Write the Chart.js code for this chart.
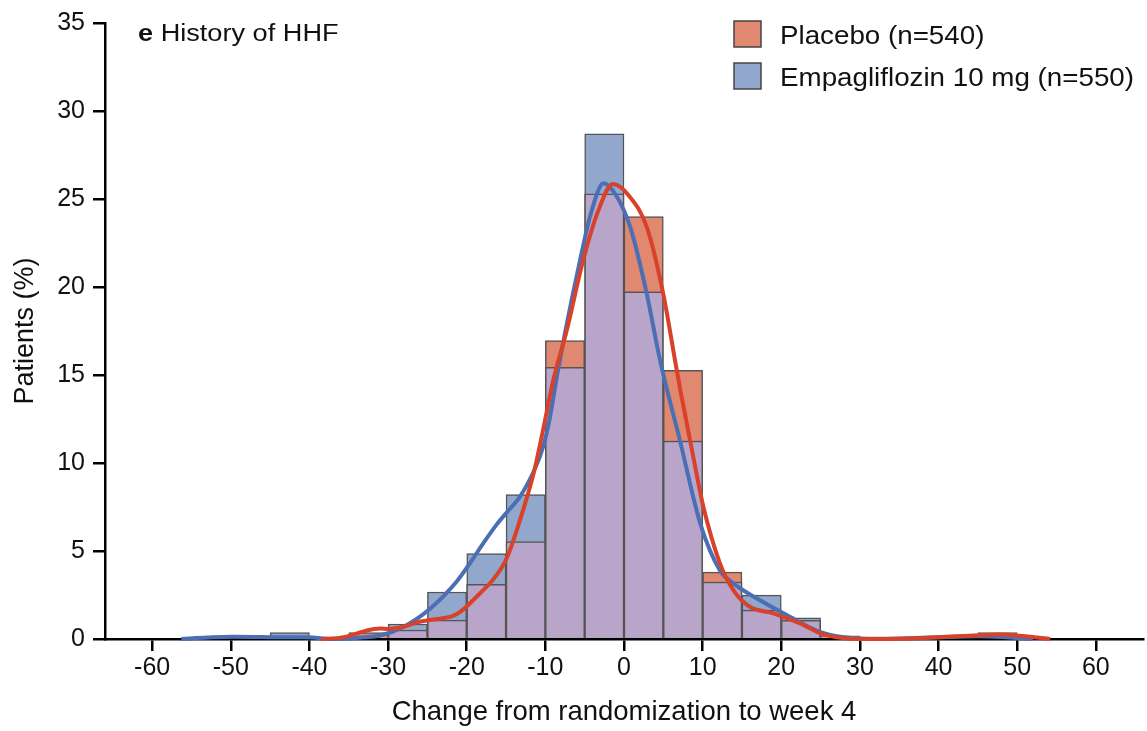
<!DOCTYPE html>
<html>
<head>
<meta charset="utf-8">
<script src="https://cdn.jsdelivr.net/npm/chart.js@4.4.0/dist/chart.umd.min.js"></script>
<style>
  html, body { margin: 0; padding: 0; background: #fff; }
  #wrap { width: 1147px; height: 731px; }
</style>
</head>
<body>
<div id="wrap"><canvas id="histChart" width="1147" height="731"></canvas></div>
<script>
/* histogram bins (width 5), % of patients */
const binMids = [-47.5, -42.5, -37.5, -32.5, -27.5, -22.5, -17.5, -12.5, -7.5, -2.5,
                 2.5, 7.5, 12.5, 17.5, 22.5, 27.5, 32.5, 37.5, 42.5, 47.5];
const placeboPct = [0, 0, 0, 0.37, 0.51, 1.07, 3.1, 5.54, 16.96, 25.3,
                    24.0, 15.26, 3.8, 1.64, 1.06, 0.18, 0, 0, 0, 0.37];
const empaPct = [0, 0.36, 0, 0, 0.85, 2.67, 4.86, 8.2, 15.43, 28.7,
                 19.73, 11.25, 3.24, 2.49, 1.2, 0, 0, 0, 0, 0];

/* density curves */
const placeboCurveX = [-38.5, -36.5, -35.3, -33, -31, -29.8, -28, -26, -24.7, -21.3, -18.3, -16.6, -14.9,
                       -12.8, -11.5, -10.3, -9, -7.3, -5.2, -3.3, -1.4, 0.6, 2.9, 5, 6.5, 7.1, 8.4, 10.1,
                       12.2, 13.9, 16, 19, 22.4, 24.9, 27, 29.6, 35, 40, 45, 48, 51, 54.2];
const placeboCurveY = [0, 0.05, 0.13, 0.45, 0.6, 0.57, 0.7, 0.98, 1.08, 1.4, 2.6, 3.4, 4.6,
                       7.37, 9.4, 11.85, 14.7, 17.5, 21.5, 24.3, 25.85, 25.2, 23.4, 19.6, 15.8, 14.3, 11.3, 7.5,
                       4.3, 2.78, 1.83, 1.46, 0.89, 0.34, 0.1, 0, 0.02, 0.1, 0.22, 0.25, 0.15, 0];
const empaCurveX = [-56.3, -53, -49.7, -47, -44.5, -41, -39.6, -37.2, -35, -33, -31, -28, -24.7, -21.3,
                    -19.6, -17.8, -16.2, -14.7, -13.2, -11.3, -10.3, -9.5, -8.5, -7.5, -5.6, -4.2, -2.6,
                    -1, 0.8, 2.9, 4.6, 7.1, 9.7, 12.2, 13.9, 17.3, 20.7, 24.9, 28, 31, 35, 40, 45, 48, 52];
const empaCurveY = [0, 0.08, 0.13, 0.12, 0.1, 0.1, 0.08, 0, 0.03, 0.1, 0.2, 0.7, 1.7, 3.25,
                    4.3, 5.5, 6.5, 7.3, 8.1, 9.7, 10.9, 12.4, 15.0, 17.4, 21.5, 24.2, 25.9,
                    25.2, 23.4, 19.6, 15.8, 11.3, 6.56, 3.9, 3.16, 2.2, 1.36, 0.41, 0.1, 0.02, 0.03, 0.1, 0.15, 0.12, 0];

const xTicks = [-60, -50, -40, -30, -20, -10, 0, 10, 20, 30, 40, 50, 60];

const legendItems = [
  { label: 'Placebo (n=540)', color: '#e08870' },
  { label: 'Empagliflozin 10 mg (n=550)', color: '#91a8cc' }
];

const FONT = '"Liberation Sans", Arial, sans-serif';

const toBars = arr => binMids.map((x, i) => ({ x: x, y: arr[i] > 0 ? arr[i] : null }));
const overlap = placeboPct.map((p, i) => Math.min(p, empaPct[i]));
const toLine = (xs, ys) => xs.map((x, i) => ({ x: x, y: ys[i] }));

/* title + legend inside the plot */
const annotate = {
  id: 'annotate',
  afterDraw(chart) {
    const ctx = chart.ctx;
    ctx.save();
    ctx.fillStyle = '#111';
    ctx.textBaseline = 'alphabetic';

    ctx.save();
    ctx.translate(138, 41);
    ctx.scale(1.18, 1);
    ctx.font = 'bold 23px ' + FONT;
    ctx.fillText('e', 0, 0);
    const w = ctx.measureText('e ').width;
    ctx.font = '23px ' + FONT;
    ctx.fillText('History of HHF', w, 0);
    ctx.restore();

    legendItems.forEach((item, i) => {
      const top = 21 + i * 42;
      ctx.fillStyle = item.color;
      ctx.fillRect(734, top, 27, 26);
      ctx.strokeStyle = '#444';
      ctx.lineWidth = 1.5;
      ctx.strokeRect(734, top, 27, 26);
      ctx.save();
      ctx.translate(780, top + 23);
      ctx.scale(1.11, 1);
      ctx.fillStyle = '#111';
      ctx.font = '25px ' + FONT;
      ctx.fillText(item.label, 0, 0);
      ctx.restore();
    });
    ctx.restore();
  }
};

const ctx = document.getElementById('histChart').getContext('2d');

const histChart = new Chart(ctx, {
  type: 'bar',
  data: {
    datasets: [
      {
        type: 'line',
        label: 'Placebo curve',
        data: toLine(placeboCurveX, placeboCurveY),
        borderColor: '#d8412a',
        borderWidth: 4,
        pointRadius: 0,
        fill: false,
        cubicInterpolationMode: 'monotone',
        clip: 4,
        order: 0
      },
      {
        type: 'line',
        label: 'Empagliflozin curve',
        data: toLine(empaCurveX, empaCurveY),
        borderColor: '#4a6fb5',
        borderWidth: 4,
        pointRadius: 0,
        fill: false,
        cubicInterpolationMode: 'monotone',
        clip: 4,
        order: 1
      },
      {
        label: 'Overlap',
        data: toBars(overlap),
        backgroundColor: '#baa5ca',
        borderColor: '#555',
        borderWidth: 1.5,
        grouped: false,
        barPercentage: 1,
        categoryPercentage: 1,
        order: 2
      },
      {
        label: legendItems[1].label,
        data: toBars(empaPct),
        backgroundColor: legendItems[1].color,
        borderColor: '#555',
        borderWidth: 1.5,
        grouped: false,
        barPercentage: 1,
        categoryPercentage: 1,
        order: 3
      },
      {
        label: legendItems[0].label,
        data: toBars(placeboPct),
        backgroundColor: legendItems[0].color,
        borderColor: '#555',
        borderWidth: 1.5,
        grouped: false,
        barPercentage: 1,
        categoryPercentage: 1,
        order: 4
      }
    ]
  },
  options: {
    responsive: false,
    animation: false,
    devicePixelRatio: 1,
    layout: { padding: { left: 0, right: 4, top: 22, bottom: 0 } },
    scales: {
      x: {
        type: 'linear',
        min: -66,
        max: 66,
        offset: false,
        afterBuildTicks: scale => { scale.ticks = xTicks.map(v => ({ value: v })); },
        afterFit: scale => { scale.height = 92; },
        ticks: {
          color: '#111',
          font: { family: FONT, size: 25 },
          padding: 2,
          maxRotation: 0,
          autoSkip: false
        },
        grid: {
          display: true,
          offset: false,
          drawOnChartArea: false,
          drawTicks: true,
          tickLength: 12,
          color: '#000',
          lineWidth: 2.5
        },
        border: { display: true, color: '#000', width: 2.5 },
        title: {
          display: true,
          text: 'Change from randomization to week 4',
          color: '#111',
          font: { family: FONT, size: 27.5 },
          padding: { top: 0, bottom: 2 }
        }
      },
      y: {
        min: 0,
        max: 35,
        afterFit: scale => { scale.width = 105; },
        ticks: {
          stepSize: 5,
          color: '#111',
          font: { family: FONT, size: 25 },
          padding: 8
        },
        grid: {
          display: true,
          drawOnChartArea: false,
          drawTicks: true,
          tickLength: 12,
          color: '#000',
          lineWidth: 2.5
        },
        border: { display: true, color: '#000', width: 2.5 },
        title: {
          display: true,
          text: 'Patients (%)',
          color: '#111',
          font: { family: FONT, size: 27 },
          padding: { top: 9, bottom: 0 }
        }
      }
    },
    plugins: {
      legend: { display: false },
      tooltip: { enabled: false },
      title: { display: false }
    }
  },
  plugins: [annotate]
});
</script>
</body>
</html>
